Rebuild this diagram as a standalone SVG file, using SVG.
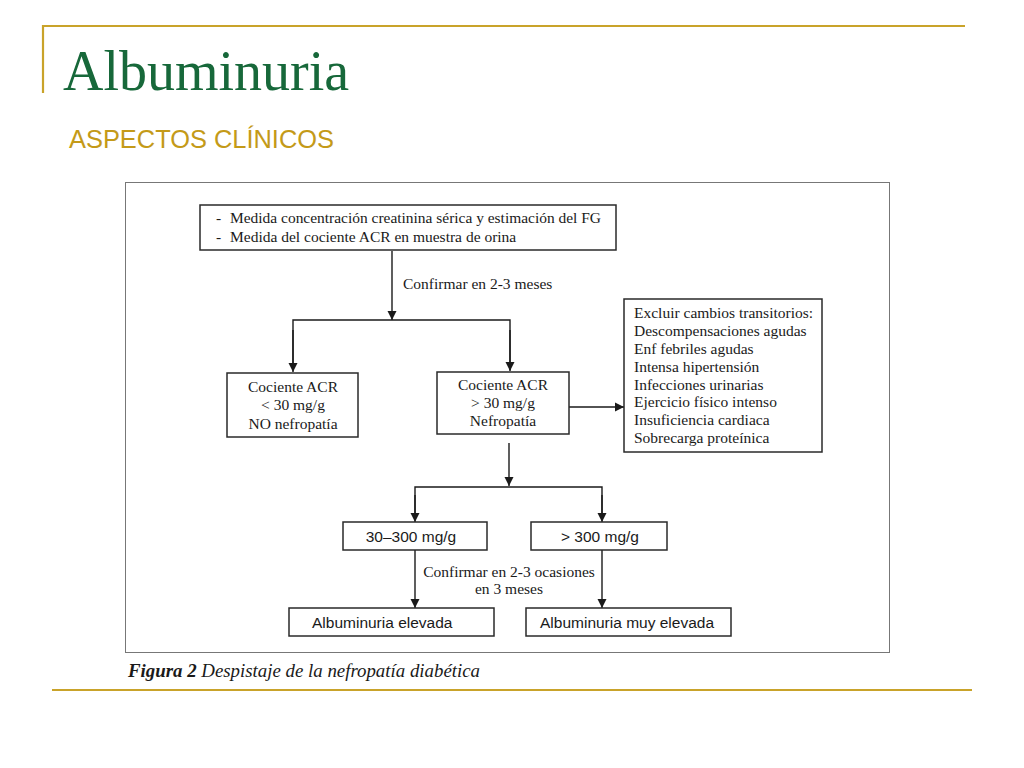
<svg xmlns="http://www.w3.org/2000/svg" width="1024" height="768" viewBox="0 0 1024 768">
<defs>
<marker id="arr" markerWidth="10" markerHeight="10" refX="9" refY="5" orient="auto" markerUnits="userSpaceOnUse">
<path d="M0,0.5 L9,5 L0,9.5 Z" fill="#1a1a1a"/>
</marker>
</defs>
<style>
.gold{stroke:#c9a32a;stroke-width:2.2;fill:none}
.box{fill:#fff;stroke:#2a2a2a;stroke-width:1.5}
.ser{font-family:"Liberation Serif","Times New Roman",serif;font-size:15.5px;fill:#1a1a1a}
.sans{font-family:"Liberation Sans",Arial,sans-serif;font-size:15.5px;fill:#1a1a1a}
.ln{stroke:#1a1a1a;stroke-width:1.4;fill:none}
.ar{marker-end:url(#arr)}
</style>
<rect width="1024" height="768" fill="#fff"/>
<g id="frame">
<line class="gold" x1="43" y1="26" x2="965" y2="26"/>
<line class="gold" x1="43" y1="25" x2="43" y2="93"/>
<line class="gold" x1="52" y1="690" x2="972" y2="690"/>
<text x="63" y="90" font-family="Liberation Serif,'Times New Roman',serif" font-size="56" fill="#17683a">Albuminuria</text>
<text x="69" y="148" font-family="Liberation Sans,Arial,sans-serif" font-size="25" fill="#c49a18" textLength="265" lengthAdjust="spacingAndGlyphs">ASPECTOS CLÍNICOS</text>
<rect x="125.5" y="182.5" width="764" height="470" fill="#fff" stroke="#777" stroke-width="1"/>
<text x="128" y="677" font-family="Liberation Serif,'Times New Roman',serif" font-size="18" font-style="italic" fill="#1a1a1a" textLength="352" lengthAdjust="spacingAndGlyphs"><tspan font-weight="bold">Figura 2</tspan> Despistaje de la nefropatía diabética</text>
</g>
<g id="connectors">
<line class="ln ar" x1="392" y1="251" x2="392" y2="320"/>
<polyline class="ln" points="293,370 293,320 510,320 510,370"/>
<line class="ln ar" x1="293" y1="330" x2="293" y2="372"/>
<line class="ln ar" x1="510" y1="330" x2="510" y2="371"/>
<line class="ln ar" x1="569" y1="407" x2="624" y2="407"/>
<line class="ln ar" x1="509" y1="443" x2="509" y2="486"/>
<polyline class="ln" points="415,520 415,487 602,487 602,520"/>
<line class="ln ar" x1="415" y1="495" x2="415" y2="522"/>
<line class="ln ar" x1="602" y1="495" x2="602" y2="522"/>
<line class="ln ar" x1="415" y1="550" x2="415" y2="608"/>
<line class="ln ar" x1="602" y1="550" x2="602" y2="608"/>
<text class="ser" x="403" y="289">Confirmar en 2-3 meses</text>
<text class="ser" x="509" y="577" text-anchor="middle">Confirmar en 2-3 ocasiones</text>
<text class="ser" x="509" y="594" text-anchor="middle">en 3 meses</text>
</g>
<g id="n-medida">
<rect class="box" x="200" y="205" width="416" height="45"/>
<text class="ser" x="216" y="223">-</text>
<text class="ser" x="230" y="223" textLength="371" lengthAdjust="spacingAndGlyphs">Medida concentración creatinina sérica y estimación del FG</text>
<text class="ser" x="216" y="242">-</text>
<text class="ser" x="230" y="242">Medida del cociente ACR en muestra de orina</text>
</g>
<g id="n-menor30">
<rect class="box" x="227" y="373" width="131" height="64"/>
<text class="ser" x="293" y="392" text-anchor="middle">Cociente ACR</text>
<text class="ser" x="293" y="410" text-anchor="middle">&lt; 30 mg/g</text>
<text class="ser" x="293" y="429" text-anchor="middle">NO nefropatía</text>
</g>
<g id="n-mayor30">
<rect class="box" x="437" y="372" width="132" height="62"/>
<text class="ser" x="503" y="390" text-anchor="middle">Cociente ACR</text>
<text class="ser" x="503" y="408" text-anchor="middle">&gt; 30 mg/g</text>
<text class="ser" x="503" y="426" text-anchor="middle">Nefropatía</text>
</g>
<g id="n-excluir">
<rect class="box" x="624" y="299" width="198" height="153"/>
<text class="ser" x="634" y="318">Excluir cambios transitorios:</text>
<text class="ser" x="634" y="336">Descompensaciones agudas</text>
<text class="ser" x="634" y="354">Enf febriles agudas</text>
<text class="ser" x="634" y="371.5">Intensa hipertensión</text>
<text class="ser" x="634" y="389.5">Infecciones urinarias</text>
<text class="ser" x="634" y="407">Ejercicio físico intenso</text>
<text class="ser" x="634" y="425">Insuficiencia cardiaca</text>
<text class="ser" x="634" y="443">Sobrecarga proteínica</text>
</g>
<g id="n-30-300">
<rect class="box" x="343" y="522" width="144" height="28"/>
<text class="sans" x="411" y="542" text-anchor="middle">30–300 mg/g</text>
</g>
<g id="n-300">
<rect class="box" x="531" y="522" width="136" height="28"/>
<text class="sans" x="600" y="542" text-anchor="middle">&gt; 300 mg/g</text>
</g>
<g id="n-elevada">
<rect class="box" x="289" y="608" width="205" height="28"/>
<text class="sans" x="312" y="628">Albuminuria elevada</text>
</g>
<g id="n-muy-elevada">
<rect class="box" x="526" y="608" width="205" height="28"/>
<text class="sans" x="540" y="628">Albuminuria muy elevada</text>
</g>
</svg>
